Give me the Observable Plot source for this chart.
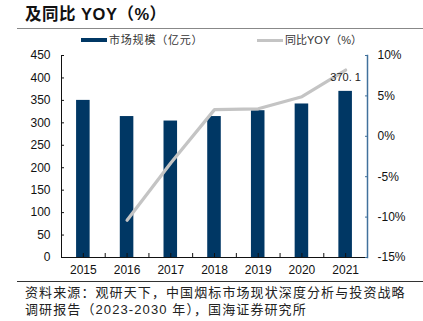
<!DOCTYPE html>
<html><head><meta charset="utf-8">
<script src="https://cdn.jsdelivr.net/npm/d3@7"></script>
<script src="https://cdn.jsdelivr.net/npm/@observablehq/plot@0.6"></script>
<style>
body{margin:0;background:#fff;}
#wrap{position:relative;width:423px;height:321px;overflow:hidden;font-family:"Liberation Sans","Noto Sans CJK SC",sans-serif;color:#111;}
#title{position:absolute;left:25px;top:4px;font-size:16.5px;font-weight:bold;line-height:21px;letter-spacing:0.5px;white-space:nowrap;}
.hr{position:absolute;left:17px;width:406px;height:0;}
#legend{position:absolute;left:0;top:32px;width:423px;height:16px;font-size:11px;color:#333;}
.sw{position:absolute;}
.lt{position:absolute;top:0;line-height:16px;white-space:nowrap;}
#chart{position:absolute;left:0;top:45px;}
#caption{position:absolute;left:25px;top:284px;font-size:13px;line-height:17px;letter-spacing:1.1px;color:#222;white-space:nowrap;}
</style></head><body>
<div id="wrap">
 <div id="title">及同比 YOY（%）</div>
 <div class="hr" style="top:28px;border-top:1.5px solid #888;"></div>
 <div id="legend">
  <div class="sw" style="left:81px;top:6px;width:26px;height:4px;background:#003764;"></div>
  <div class="lt" style="left:109px;letter-spacing:0.8px;" id="lg1"></div>
  <div class="sw" style="left:257px;top:7px;width:26px;height:3px;background:#c4c4c4;"></div>
  <div class="lt" style="left:285px;" id="lg2"></div>
 </div>
 <div id="chart"></div>
 <div class="hr" style="top:281px;border-top:1px solid #333;"></div>
 <div id="caption"></div>
</div>
<script>
const years = [2015, 2016, 2017, 2018, 2019, 2020, 2021];
const marketSize = [350, 314, 304, 314, 327, 342, 370.1];
const yoy = [null, -10.4, -3.3, 3.3, 3.4, 4.9, 8.2];
const leftTicks = [0, 50, 100, 150, 200, 250, 300, 350, 400, 450];
const rightTicks = [-15, -10, -5, 0, 5, 10];
const seriesNames = ["市场规模（亿元）", "同比YOY（%）"];
const captionLines = ["资料来源：观研天下，中国烟标市场现状深度分析与投资战略", "调研报告（2023-2030 年），国海证券研究所"];

document.getElementById("lg1").textContent = seriesNames[0];
document.getElementById("lg2").textContent = seriesNames[1];
document.getElementById("caption").innerHTML = captionLines.join("<br>");

const leftMax = 450;
const rMin = -15, rMax = 10;
const toY = p => (p - rMin) / (rMax - rMin) * leftMax;

const bars = years.map((y, i) => ({year: y, value: marketSize[i]}));
const line = years.map((y, i) => ({year: y, pct: yoy[i]})).filter(d => d.pct != null);
const halfTicks = [];
years.forEach((y, i) => { halfTicks.push(y); if (i < years.length - 1) halfTicks.push(y + 0.5); });
const last = bars[bars.length - 1];

const chart = Plot.plot({
  width: 423,
  height: 237,
  marginLeft: 61,
  marginRight: 56,
  marginTop: 10,
  marginBottom: 25,
  style: {fontFamily: "Liberation Sans, Arial, sans-serif", fontSize: "12px", color: "#111", background: "transparent"},
  x: {domain: [years[0] - 0.5, years[years.length - 1] + 0.5]},
  y: {domain: [0, leftMax]},
  marks: [
    Plot.rectY(bars, {x1: d => d.year - 0.155, x2: d => d.year + 0.155, y: "value", fill: "#003764"}),
    Plot.line(line, {x: "year", y: d => toY(d.pct), stroke: "#c4c4c4", strokeWidth: 3.2}),
    Plot.text([last], {x: "year", y: "value", text: d => String(d.value).replace(".", ". "), dy: -14, fontSize: 11, fill: "#222"}),
    Plot.frame({anchor: "left", stroke: "#111"}),
    Plot.frame({anchor: "bottom", stroke: "#111"}),
    Plot.frame({anchor: "right", stroke: "#41719c", strokeWidth: 1.5}),
    Plot.axisY({anchor: "left", ticks: leftTicks, tickSize: -3, tickPadding: 14, label: null, tickFormat: d => d}),
    Plot.axisY({anchor: "right", ticks: rightTicks.map(toY), tickSize: -3, tickPadding: 13, label: null, stroke: "#41719c",
      tickFormat: v => Math.round(v / leftMax * (rMax - rMin) + rMin) + "%"}),
    Plot.axisX({anchor: "bottom", ticks: halfTicks, tickSize: -4, tickPadding: 12, label: null,
      tickFormat: d => Number.isInteger(d) ? String(d) : ""})
  ]
});
document.getElementById("chart").appendChild(chart);
</script>
</body></html>
